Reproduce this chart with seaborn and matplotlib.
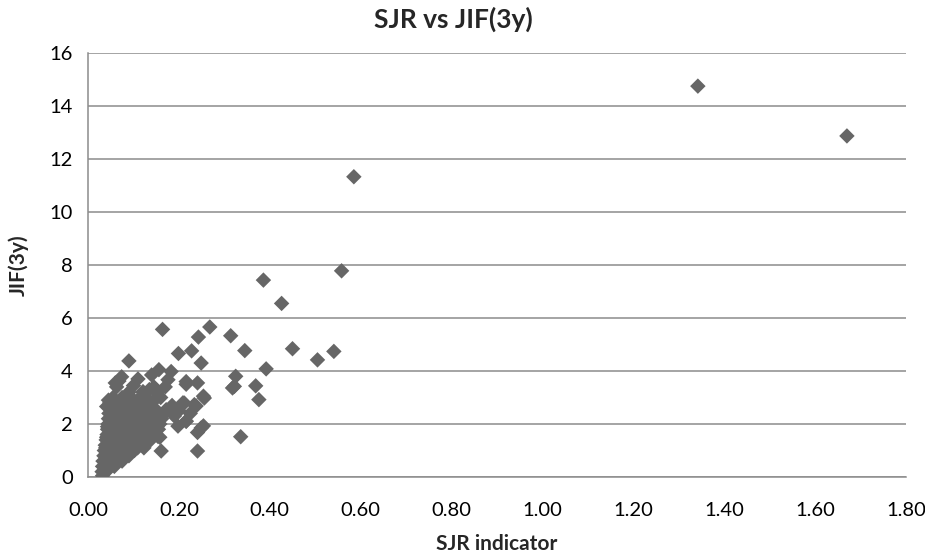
import matplotlib
matplotlib.use("Agg")
import matplotlib.pyplot as plt
import seaborn as sns
import pandas as pd
from matplotlib.ticker import FormatStrFormatter

# ---- data (SJR indicator, JIF(3y)) ----
# outliers / sparse points
sjr_sparse = [1.342, 1.670, 0.585, 0.558, 0.386, 0.426, 0.164, 0.268, 0.243, 0.314,
              0.345, 0.450, 0.541, 0.505, 0.228, 0.199, 0.090, 0.249, 0.156, 0.392,
              0.325, 0.318, 0.369, 0.376, 0.336, 0.241, 0.161, 0.241, 0.254, 0.198,
              0.216, 0.158, 0.238, 0.254, 0.216, 0.241, 0.209, 0.121, 0.151, 0.074,
              0.063, 0.045, 0.041, 0.183, 0.176, 0.216, 0.256, 0.234, 0.212, 0.154,
              0.128, 0.172, 0.216, 0.249, 0.154, 0.322, 0.068, 0.100, 0.135, 0.190,
              0.200, 0.110, 0.140, 0.185, 0.225, 0.060]
jif_sparse = [14.75, 12.87, 11.33, 7.78, 7.43, 6.55, 5.57, 5.66, 5.28, 5.33,
              4.77, 4.84, 4.74, 4.42, 4.76, 4.66, 4.38, 4.30, 4.05, 4.08,
              3.80, 3.36, 3.44, 2.92, 1.52, 0.98, 0.98, 1.68, 1.93, 1.92,
              2.11, 1.50, 2.68, 3.05, 3.50, 3.55, 2.80, 3.22, 3.28, 3.78,
              3.40, 2.90, 2.66, 3.98, 3.67, 3.60, 2.98, 2.73, 2.79, 3.04,
              2.98, 2.54, 2.10, 1.85, 1.53, 3.42, 3.62, 3.45, 3.30, 2.30,
              2.50, 3.70, 3.85, 2.70, 2.40, 3.55]

# dense wedge near the origin
sjr_dense = [0.032,
             0.031, 0.040,
             0.032, 0.045, 0.058,
             0.033, 0.046, 0.060, 0.075,
             0.035, 0.048, 0.062, 0.076, 0.090,
             0.036, 0.050, 0.064, 0.078, 0.092, 0.102,
             0.038, 0.052, 0.066, 0.080, 0.094, 0.108, 0.122,
             0.040, 0.054, 0.068, 0.082, 0.096, 0.110, 0.124, 0.138,
             0.042, 0.056, 0.070, 0.084, 0.098, 0.112, 0.126, 0.140, 0.150,
             0.043, 0.057, 0.071, 0.085, 0.099, 0.113, 0.127, 0.141, 0.155,
             0.044, 0.058, 0.072, 0.086, 0.100, 0.114, 0.128, 0.142, 0.158,
             0.045, 0.059, 0.073, 0.087, 0.101, 0.115, 0.129, 0.145, 0.162,
             0.046, 0.060, 0.074, 0.088, 0.102, 0.118, 0.134, 0.150, 0.168,
             0.047, 0.062, 0.078, 0.094, 0.110, 0.128, 0.146,
             0.048, 0.065, 0.082, 0.100, 0.120, 0.140,
             0.055, 0.075, 0.095, 0.115, 0.160,
             0.090, 0.121, 0.151,
             0.145, 0.170,
             0.039, 0.053, 0.067, 0.081, 0.095, 0.109, 0.123,
             0.041, 0.055, 0.069, 0.083, 0.097, 0.111, 0.125, 0.139,
             0.043, 0.057, 0.071, 0.085, 0.099, 0.113, 0.127, 0.141, 0.152]
jif_dense = [0.05,
             0.20, 0.20,
             0.40, 0.40, 0.40,
             0.60, 0.60, 0.60, 0.60,
             0.80, 0.80, 0.80, 0.80, 0.80,
             1.00, 1.00, 1.00, 1.00, 1.00, 1.00,
             1.20, 1.20, 1.20, 1.20, 1.20, 1.20, 1.20,
             1.40, 1.40, 1.40, 1.40, 1.40, 1.40, 1.40, 1.40,
             1.60, 1.60, 1.60, 1.60, 1.60, 1.60, 1.60, 1.60, 1.60,
             1.80, 1.80, 1.80, 1.80, 1.80, 1.80, 1.80, 1.80, 1.80,
             2.00, 2.00, 2.00, 2.00, 2.00, 2.00, 2.00, 2.00, 2.00,
             2.20, 2.20, 2.20, 2.20, 2.20, 2.20, 2.20, 2.20, 2.20,
             2.40, 2.40, 2.40, 2.40, 2.40, 2.40, 2.40, 2.40, 2.40,
             2.60, 2.60, 2.60, 2.60, 2.60, 2.60, 2.60,
             2.80, 2.80, 2.80, 2.80, 2.80, 2.80,
             3.00, 3.00, 3.00, 3.00, 3.00,
             3.20, 3.20, 3.20,
             3.40, 3.40,
             1.10, 1.10, 1.10, 1.10, 1.10, 1.10, 1.10,
             1.50, 1.50, 1.50, 1.50, 1.50, 1.50, 1.50, 1.50,
             1.90, 1.90, 1.90, 1.90, 1.90, 1.90, 1.90, 1.90, 1.90]

x_ticks = [0.0, 0.2, 0.4, 0.6, 0.8, 1.0, 1.2, 1.4, 1.6, 1.8]
y_ticks = [0, 2, 4, 6, 8, 10, 12, 14, 16]

df = pd.DataFrame({"SJR": sjr_sparse + sjr_dense, "JIF": jif_sparse + jif_dense})

sns.set_theme(style="white")
plt.rcParams["font.family"] = ["Lato", "DejaVu Sans"]

fig = plt.figure(figsize=(9.25, 5.57), dpi=100)
ax = fig.add_axes([88 / 925, 1 - 477 / 557, (906 - 88) / 925, (477 - 53) / 557])

sns.scatterplot(data=df, x="SJR", y="JIF", marker="D", s=62, color="#666666",
                edgecolor="none", linewidth=0, ax=ax, zorder=3)

ax.set_xlim(0, 1.8)
ax.set_ylim(0, 16)
ax.set_xticks(x_ticks)
ax.set_yticks(y_ticks)
ax.xaxis.set_major_formatter(FormatStrFormatter("%.2f"))
ax.yaxis.grid(True, color="#8c8c8c", linewidth=1.1)
ax.xaxis.grid(False)
ax.set_axisbelow(True)
for s in ["top", "right"]:
    ax.spines[s].set_visible(False)
for s in ["left", "bottom"]:
    ax.spines[s].set_color("#8c8c8c")
    ax.spines[s].set_linewidth(1.1)
ax.tick_params(axis="both", which="both", direction="out", length=5, width=1,
               color="#8c8c8c", labelsize=14.5, labelcolor="#000000", pad=6)
ax.tick_params(axis="x", pad=13)

ax.set_xlabel("SJR indicator", fontsize=15, fontweight="bold", labelpad=11)
ax.set_ylabel("JIF(3y)", fontsize=15, fontweight="bold", labelpad=15)
fig.text(0.49, 0.966, "SJR vs JIF(3y)", ha="center", va="center",
         fontsize=19, fontweight="bold")

fig.savefig("out.png", dpi=100)
